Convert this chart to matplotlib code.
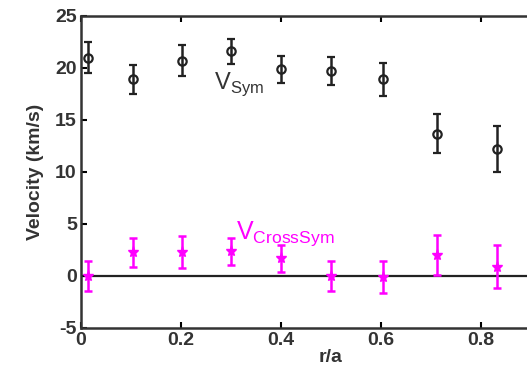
import matplotlib

matplotlib.use("Agg")
import matplotlib.pyplot as plt

plt.rcParams["font.family"] = ["Liberation Sans", "DejaVu Sans"]
plt.rcParams["mathtext.fontset"] = "custom"
plt.rcParams["mathtext.rm"] = "Liberation Sans"
plt.rcParams["axes.unicode_minus"] = False

# radial positions (r/a)
r_a = [0.014, 0.104, 0.202, 0.300, 0.400, 0.500, 0.604, 0.712, 0.832]

# symmetric component and its error
v_sym = [21.0, 18.9, 20.7, 21.6, 19.9, 19.7, 18.9, 13.7, 12.2]
v_sym_err = [1.5, 1.4, 1.5, 1.2, 1.3, 1.35, 1.55, 1.85, 2.2]

# cross-symmetric component and its error
v_cross = [0.0, 2.3, 2.3, 2.4, 1.7, 0.0, -0.1, 2.0, 0.9]
v_cross_err = [1.4, 1.4, 1.5, 1.3, 1.3, 1.4, 1.55, 1.9, 2.1]

fig = plt.figure(figsize=(5.27, 3.78), dpi=100)
ax = fig.add_axes([0.1537, 0.1323, 0.9488, 0.8254])

ax.axhline(0, color="#222222", linewidth=1.6, zorder=1)

ax.errorbar(r_a, v_sym, yerr=v_sym_err, fmt="o", color="#222222",
            markerfacecolor="none", markersize=6, markeredgewidth=1.6,
            elinewidth=1.8, capsize=3, capthick=1.8, zorder=3)
ax.errorbar(r_a, v_cross, yerr=v_cross_err, fmt="*", color="#ff00ff",
            markersize=8, elinewidth=1.8, capsize=3, capthick=1.8, zorder=3)

ax.text(0.265, 18.0, r"V$_{\mathregular{Sym}}$", fontsize=17, color="#333333")
ax.text(0.31, 3.6, r"V$_{\mathregular{CrossSym}}$", fontsize=18, color="#ff00ff")

ax.set_xlim(0, 1)
ax.set_ylim(-5, 25)
ax.set_xticks([0, 0.2, 0.4, 0.6, 0.8])
ax.set_xticklabels(["0", "0.2", "0.4", "0.6", "0.8"])
ax.set_yticks([-5, 0, 5, 10, 15, 20, 25])

ax.tick_params(direction="in", top=True, right=True, length=4, width=1.5,
               labelsize=14, pad=3)
for lbl in ax.get_xticklabels() + ax.get_yticklabels():
    lbl.set_fontweight("bold")
    lbl.set_color("#333333")
for sp in ax.spines.values():
    sp.set_linewidth(1.8)
    sp.set_color("#333333")

ax.set_xlabel("r/a", fontsize=14, fontweight="bold", color="#333333", labelpad=0)
ax.set_ylabel("Velocity (km/s)", fontsize=14, fontweight="bold", color="#333333",
              labelpad=8)

fig.savefig("out.png", dpi=100)
